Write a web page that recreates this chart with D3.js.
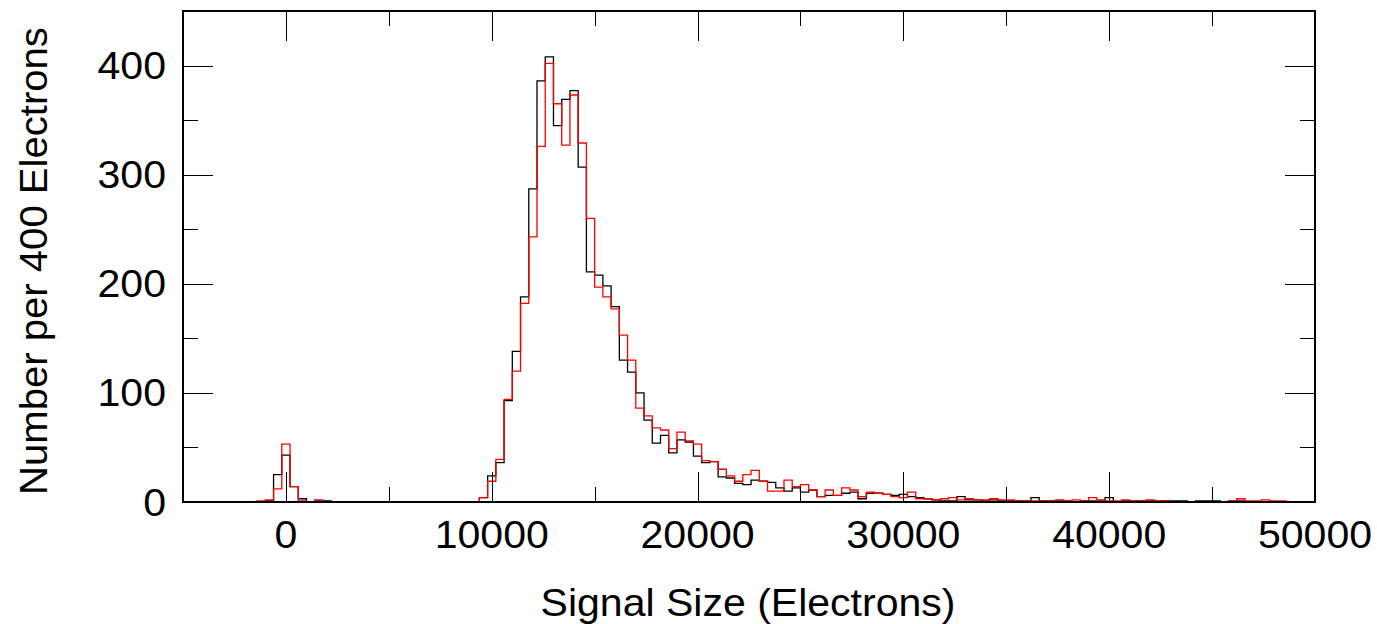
<!DOCTYPE html>
<html>
<head>
<meta charset="utf-8">
<script src="https://cdn.jsdelivr.net/npm/d3@7"></script>
<style>
  html, body { margin: 0; padding: 0; background: #fff; }
  svg { display: block; }
  text { font-family: "Liberation Sans", Arial, Helvetica, sans-serif; fill: #000; }
</style>
</head>
<body>
<svg id="chart" width="1377" height="624"></svg>
<script>
// ---- data (bin width 400 electrons, first bin starts at -5000) ----
const binStart = -5000;
const binWidth = 400;
const blackCounts = [
  0,0,0,0,0,0,0,0,0,0,
  1,25,43,14,3,0,1,1,
  0,0,0,0,0,0,0,0,0,0,0,0,0,0,0,0,0,0,
  4,24,36,93,138,188,287,386,408,345,369,377,307,211,208,198,179,130,119,100,75,54,61,45,
  57,55,42,36,37,23,22,17,16,20,19,18,13,10,13,9,11,5,6,6,8,9,3,8,8,7,6,7,5,4,
  3,2,1,1,5,2,2,1,2,1,1,1,1,4,1,1,1,1,0,1,1,1,4,0,1,1,1,1,1,1,
  1,1,0,1,1,1,0,1,1,0,0,0,0,0,0,0,0
];
const redCounts = [
  0,0,0,0,0,0,0,0,0,1,
  2,12,53,14,1,0,2,0,
  0,0,0,0,0,0,0,0,0,0,0,0,0,0,0,0,0,0,
  4,19,39,94,120,182,243,326,402,365,327,373,329,260,197,188,177,153,130,86,79,68,66,49,
  64,56,53,38,37,30,24,19,25,29,19,10,10,20,14,16,11,5,11,6,13,11,5,9,8,7,5,4,9,3,
  3,2,3,4,2,3,2,2,3,2,2,1,1,1,1,1,2,1,2,1,4,2,1,1,2,1,1,2,1,1,
  0,0,0,0,0,0,0,1,3,1,1,2,1,1,0,0,0
];
const xDomain = [-5000, 50000];
const yDomain = [0, 450];
const xMajorTicks = [0, 10000, 20000, 30000, 40000, 50000];
const xMinorTicks = [-5000, 5000, 15000, 25000, 35000, 45000];
const yMajorTicks = [0, 100, 200, 300, 400];
const yMinorTicks = [50, 150, 250, 350];
const xLabels = ["0", "10000", "20000", "30000", "40000", "50000"];
const yLabels = ["0", "100", "200", "300", "400"];
const xTitle = "Signal Size (Electrons)";
const yTitle = "Number per 400 Electrons";

// ---- layout ----
const L = 183, R = 1315, T = 11, B = 502;
const svg = d3.select("#chart");
const x = d3.scaleLinear().domain(xDomain).range([L, R]);
const y = d3.scaleLinear().domain(yDomain).range([B, T]);

const FS = 38, SX = 1.08;

svg.append("defs").append("clipPath").attr("id", "clip")
  .append("rect").attr("x", L).attr("y", T - 1).attr("width", R - L).attr("height", B - T + 2);

// histograms
function stepPoints(counts) {
  const pts = counts.map((c, i) => [binStart + i * binWidth, c]);
  pts.push([binStart + counts.length * binWidth, counts[counts.length - 1]]);
  return pts;
}
const line = d3.line().x(d => x(d[0])).y(d => y(d[1])).curve(d3.curveStepAfter);

const g = svg.append("g").attr("clip-path", "url(#clip)");
g.append("path").attr("d", line(stepPoints(blackCounts)))
  .attr("fill", "none").attr("stroke", "#000").attr("stroke-width", 1.3);
g.append("path").attr("d", line(stepPoints(redCounts)))
  .attr("fill", "none").attr("stroke", "#ff0000").attr("stroke-width", 1.3);

// axes with inward ticks
function tickAxis(gen, pos, values, size) {
  svg.append("g").attr("transform", pos)
    .call(gen.tickValues(values).tickSize(size).tickFormat(""))
    .call(a => a.select(".domain").remove())
    .call(a => a.selectAll("line").attr("stroke", "#000").attr("stroke-width", 1).attr("shape-rendering", "crispEdges"));
}
tickAxis(d3.axisBottom(x), `translate(0,${B})`, xMajorTicks, -30);
tickAxis(d3.axisBottom(x), `translate(0,${B})`, xMinorTicks, -15);
tickAxis(d3.axisTop(x), `translate(0,${T})`, xMajorTicks, -30);
tickAxis(d3.axisTop(x), `translate(0,${T})`, xMinorTicks, -15);
tickAxis(d3.axisLeft(y), `translate(${L},0)`, yMajorTicks, -30);
tickAxis(d3.axisLeft(y), `translate(${L},0)`, yMinorTicks, -15);
tickAxis(d3.axisRight(y), `translate(${R},0)`, yMajorTicks, -30);
tickAxis(d3.axisRight(y), `translate(${R},0)`, yMinorTicks, -15);

// frame
svg.append("rect").attr("x", L).attr("y", T).attr("width", R - L).attr("height", B - T)
  .attr("fill", "none").attr("stroke", "#000").attr("stroke-width", 1.2).attr("shape-rendering", "crispEdges");

// tick labels
xMajorTicks.forEach((v, i) => {
  svg.append("text").attr("transform", `translate(${x(v)},548) scale(${SX},1)`)
    .attr("text-anchor", "middle").attr("font-size", FS).text(xLabels[i]);
});
yMajorTicks.forEach((v, i) => {
  svg.append("text").attr("transform", `translate(166,${y(v) + 13.5}) scale(${SX},1)`)
    .attr("text-anchor", "end").attr("font-size", FS).text(yLabels[i]);
});

// titles
svg.append("text").attr("transform", `translate(${(L + R) / 2 - 1},616) scale(${SX},1)`)
  .attr("text-anchor", "middle").attr("font-size", FS).text(xTitle);
svg.append("text").attr("transform", `translate(47,261) rotate(-90) scale(1.055,1)`)
  .attr("text-anchor", "middle").attr("font-size", FS).text(yTitle);
</script>
</body>
</html>
